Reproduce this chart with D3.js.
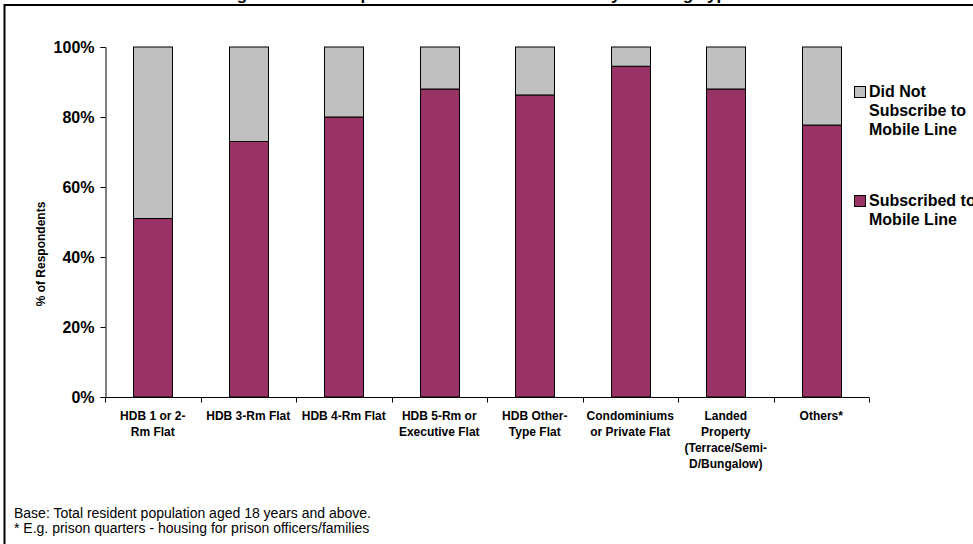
<!DOCTYPE html>
<html>
<head>
<meta charset="utf-8">
<script src="https://cdn.jsdelivr.net/npm/d3@7"></script>
<style>
  html, body { margin: 0; padding: 0; background: #fff; overflow: hidden; }
  svg { display: block; font-family: Arial, "Liberation Sans", sans-serif; }
</style>
</head>
<body>
<svg id="chart" width="973" height="544"></svg>
<script>
// Housing types (line breaks marked with \n)
const categories = [
  "HDB 1 or 2-\nRm Flat",
  "HDB 3-Rm Flat",
  "HDB 4-Rm Flat",
  "HDB 5-Rm or\nExecutive Flat",
  "HDB Other-\nType Flat",
  "Condominiums\nor Private Flat",
  "Landed\nProperty\n(Terrace/Semi-\nD/Bungalow)",
  "Others*"
];
// Share of respondents (%)
const subscribed    = [51, 73, 80, 88, 86.3, 94.5, 88, 77.7];
const notSubscribed = [49, 27, 20, 12, 13.7, 5.5, 12, 22.3];
const seriesNames = ["Subscribed to\nMobile Line", "Did Not\nSubscribe to\nMobile Line"];
const seriesColors = ["#993366", "#C0C0C0"];
const yTicks = [0, 20, 40, 60, 80, 100];

const svg = d3.select("#chart");

// Outer frame
svg.append("rect")
  .attr("x", 4.5).attr("y", 5).attr("width", 1000).attr("height", 600)
  .attr("fill", "none").attr("stroke", "#000").attr("stroke-width", 2);

// Title (sits mostly above the frame)
svg.append("text")
  .attr("x", 479).attr("y", 0)
  .attr("text-anchor", "middle")
  .attr("font-weight", "bold").attr("font-size", 17)
  .text("Figure 5: Subscription to Mobile Line Services by Housing Type");

const plot = { left: 105, right: 869, top: 47, bottom: 397 };

const x = d3.scaleBand()
  .domain(categories)
  .range([plot.left, plot.right])
  .paddingInner(0.59).paddingOuter(0.295);

const y = d3.scaleLinear().domain([0, 100]).range([plot.bottom, plot.top]);

const rows = categories.map((c, i) => ({ cat: c, sub: subscribed[i], not: notSubscribed[i] }));
const stacked = d3.stack().keys(["sub", "not"])(rows);

const g = svg.append("g");
g.selectAll("g.series")
  .data(stacked)
  .join("g")
  .attr("class", "series")
  .attr("fill", (d, i) => seriesColors[i])
  .selectAll("rect")
  .data(d => d)
  .join("rect")
  .attr("x", d => Math.round(x(d.data.cat)) + 0.5)
  .attr("width", Math.round(x.bandwidth()))
  .attr("y", d => y(d[1]))
  .attr("height", d => y(d[0]) - y(d[1]))
  .attr("stroke", "#000").attr("stroke-width", 1);

// Y axis
const yAxis = svg.append("g")
  .attr("transform", `translate(${plot.left + 0.5},0)`)
  .call(d3.axisLeft(y).tickValues(yTicks).tickFormat(d => d + "%").tickSize(5).tickPadding(6));
yAxis.select(".domain").attr("stroke", "#000");
yAxis.selectAll(".tick line").attr("stroke", "#000");
yAxis.selectAll(".tick text")
  .attr("font-family", "Arial, 'Liberation Sans', sans-serif")
  .attr("font-size", 16).attr("font-weight", "bold").attr("fill", "#000");

// X axis: ticks on category boundaries
const xAxis = svg.append("g").attr("transform", `translate(0,${plot.bottom + 0.5})`);
xAxis.append("line")
  .attr("x1", plot.left).attr("x2", plot.right)
  .attr("stroke", "#000");
xAxis.selectAll("line.tk")
  .data(d3.range(categories.length + 1))
  .join("line").attr("class", "tk")
  .attr("x1", i => Math.round(plot.left + (plot.right - plot.left) * i / categories.length) + 0.5)
  .attr("x2", i => Math.round(plot.left + (plot.right - plot.left) * i / categories.length) + 0.5)
  .attr("y1", 0).attr("y2", 5).attr("stroke", "#000");

xAxis.selectAll("text.lbl")
  .data(categories)
  .join("text").attr("class", "lbl")
  .attr("x", d => x(d) + x.bandwidth() / 2)
  .attr("y", 22)
  .attr("text-anchor", "middle")
  .attr("font-size", 12).attr("font-weight", "bold")
  .each(function(d) {
    const t = d3.select(this);
    d.split("\n").forEach((line, k) => {
      t.append("tspan").attr("x", x(d) + x.bandwidth() / 2).attr("dy", k === 0 ? 0 : 16).text(line);
    });
  });

// Y axis title
svg.append("text")
  .attr("transform", "translate(45,254) rotate(-90)")
  .attr("text-anchor", "middle")
  .attr("font-size", 12).attr("font-weight", "bold")
  .text("% of Respondents");

// Legend (top entry is the upper stack segment)
const legendItems = [
  { name: seriesNames[1], color: seriesColors[1], y: 86 },
  { name: seriesNames[0], color: seriesColors[0], y: 195 }
];
const lg = svg.selectAll("g.legend").data(legendItems).join("g").attr("class", "legend");
lg.append("rect")
  .attr("x", 854.5).attr("y", d => d.y + 0.5)
  .attr("width", 11).attr("height", 11)
  .attr("fill", d => d.color).attr("stroke", "#000");
lg.append("text")
  .attr("x", 869).attr("y", d => d.y + 11)
  .attr("font-size", 16).attr("font-weight", "bold")
  .each(function(d) {
    const t = d3.select(this);
    d.name.split("\n").forEach((line, k) => {
      t.append("tspan").attr("x", 869).attr("dy", k === 0 ? 0 : 19).text(line);
    });
  });

// Footnotes
const notes = [
  "Base: Total resident population aged 18 years and above.",
  "* E.g. prison quarters - housing for prison officers/families"
];
svg.selectAll("text.note").data(notes).join("text").attr("class", "note")
  .attr("x", 14).attr("y", (d, i) => 518 + i * 15)
  .attr("font-size", 14).attr("fill", "#000")
  .text(d => d);
</script>
</body>
</html>
